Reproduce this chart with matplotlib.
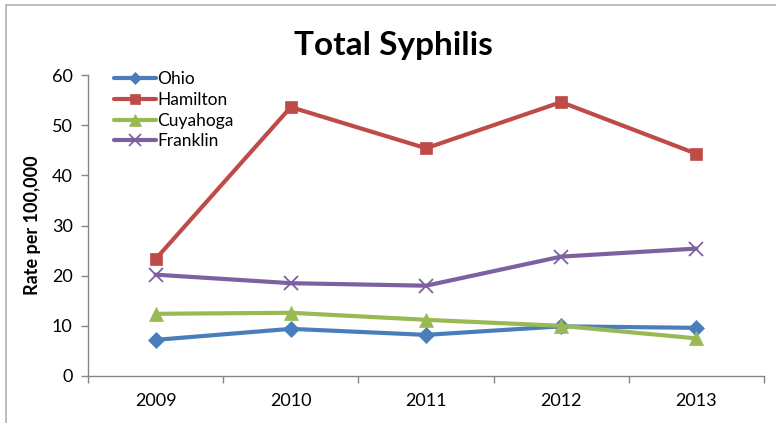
import numpy as np
import matplotlib.pyplot as plt
from matplotlib.patches import Rectangle

years = ['2009', '2010', '2011', '2012', '2013']
ohio = [7.2, 9.4, 8.2, 9.9, 9.6]
hamilton = [23.3, 53.6, 45.4, 54.6, 44.3]
cuyahoga = [12.4, 12.6, 11.2, 10.0, 7.5]
franklin = [20.2, 18.5, 18.0, 23.8, 25.4]

plt.rc('font', family=['Lato', 'DejaVu Sans'], size=13)
fig = plt.figure(figsize=(7.76, 4.23), dpi=100)
ax = fig.add_axes([88/776, 1 - 376/423, (764 - 88)/776, (376 - 75)/423])

# chart frame (cut off at right/bottom like the screenshot)
fig.add_artist(Rectangle((6/776, -0.1), 1.2, 1 - 5/423 + 0.1, transform=fig.transFigure,
                         fill=False, edgecolor='#b0b0b0', linewidth=1.2))

x = np.arange(len(years))
series = [
    ('Ohio', ohio, '#4A7EBB', 'D', 8),
    ('Hamilton', hamilton, '#BE4B48', 's', 9),
    ('Cuyahoga', cuyahoga, '#98B954', '^', 10),
    ('Franklin', franklin, '#7D60A0', 'x', 10),
]
for name, vals, col, mk, ms in series:
    ax.plot(x, vals, color=col, linewidth=3, marker=mk, markersize=ms,
            markeredgewidth=1.3 if mk == 'x' else 0.5, markeredgecolor=col,
            markerfacecolor=col, label=name, solid_capstyle='round')

ax.set_xlim(-0.5, 4.5)
ax.set_ylim(0, 60)
ax.set_yticks(np.arange(0, 61, 10))
ax.set_xticks(np.arange(-0.5, 4.6, 1))
ax.set_xticklabels([])
ax.set_xticks(x, minor=True)
ax.set_xticklabels(years, minor=True)
ax.tick_params(axis='x', which='minor', length=0, pad=12, labelsize=13)
ax.tick_params(axis='both', which='major', length=5, color='#868686', width=1)
ax.tick_params(axis='y', pad=6, labelsize=13)
for s in ['top', 'right']:
    ax.spines[s].set_visible(False)
for s in ['left', 'bottom']:
    ax.spines[s].set_color('#868686')
    ax.spines[s].set_linewidth(1)

ax.set_ylabel('Rate per 100,000', fontweight='bold', fontsize=13, labelpad=8)
fig.text(393/776, 1 - 45/423, 'Total Syphilis', fontsize=24, fontweight='bold',
         ha='center', va='center')

leg = ax.legend(loc='upper left', bbox_to_anchor=(0.028, 1.035), frameon=False,
                handlelength=2.4, handletextpad=0.1, labelspacing=0.27, fontsize=12.5,
                borderaxespad=0, markerscale=0.8)

fig.savefig('out.png', dpi=100)
